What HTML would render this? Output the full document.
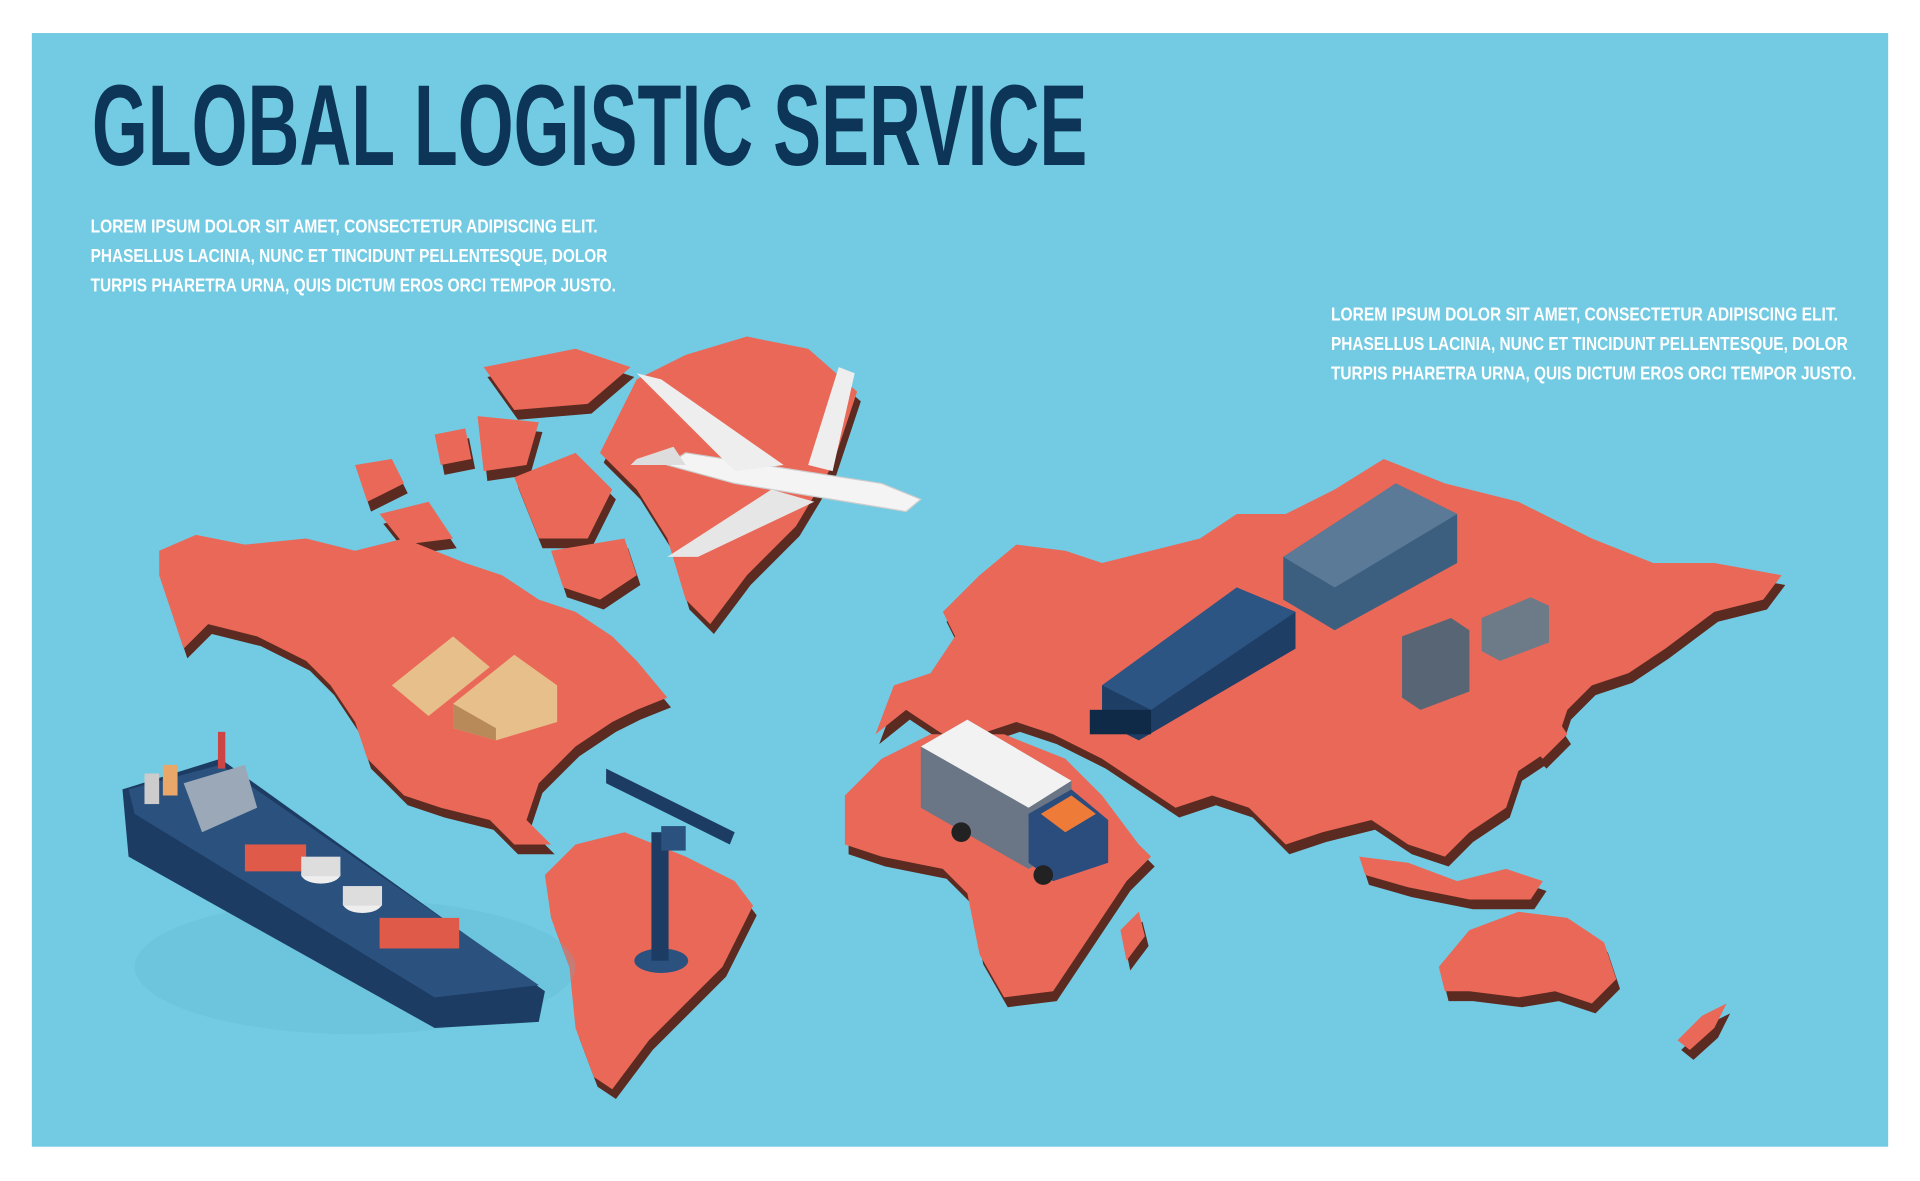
<!DOCTYPE html>
<html><head><meta charset="utf-8"><style>
html,body{margin:0;padding:0;background:#fff;width:1920px;height:1181px;overflow:hidden}
svg{display:block}
text{font-family:"Liberation Sans",sans-serif;font-weight:bold}
</style></head><body>
<svg width="1920" height="1181" viewBox="0 0 1568 965" preserveAspectRatio="none" xmlns="http://www.w3.org/2000/svg">
<rect x="26" y="27" width="1516" height="910" fill="#72cbe3"/>
<text x="75" y="135" font-size="94" fill="#0d3557" textLength="813" lengthAdjust="spacingAndGlyphs">GLOBAL LOGISTIC SERVICE</text>
<g fill="#fff" font-size="15">
<text x="74" y="190" textLength="414" lengthAdjust="spacingAndGlyphs">LOREM IPSUM DOLOR SIT AMET, CONSECTETUR ADIPISCING ELIT.</text>
<text x="74" y="214" textLength="422" lengthAdjust="spacingAndGlyphs">PHASELLUS LACINIA, NUNC ET TINCIDUNT PELLENTESQUE, DOLOR</text>
<text x="74" y="238" textLength="429" lengthAdjust="spacingAndGlyphs">TURPIS PHARETRA URNA, QUIS DICTUM EROS ORCI TEMPOR JUSTO.</text>
</g>
<g fill="#fff" font-size="15">
<text x="1087" y="262" textLength="414" lengthAdjust="spacingAndGlyphs">LOREM IPSUM DOLOR SIT AMET, CONSECTETUR ADIPISCING ELIT.</text>
<text x="1087" y="286" textLength="422" lengthAdjust="spacingAndGlyphs">PHASELLUS LACINIA, NUNC ET TINCIDUNT PELLENTESQUE, DOLOR</text>
<text x="1087" y="310" textLength="429" lengthAdjust="spacingAndGlyphs">TURPIS PHARETRA URNA, QUIS DICTUM EROS ORCI TEMPOR JUSTO.</text>
</g>
<defs>
<g id="lands">
<polygon points="130,450 160,437 200,445 250,440 290,450 330,440 380,460 410,470 440,490 470,500 500,520 520,540 545,570 520,580 500,590 470,610 440,640 430,670 450,690 420,690 400,670 360,660 330,650 300,620 290,590 270,560 250,540 210,520 170,510 150,530 140,500 130,470"/>
<polygon points="290,380 320,375 330,395 300,410"/>
<polygon points="310,420 350,410 370,440 330,445"/>
<polygon points="355,355 380,350 385,375 360,380"/>
<polygon points="395,300 470,285 515,300 480,330 420,335"/>
<polygon points="390,340 440,345 430,380 395,385"/>
<polygon points="420,390 470,370 500,400 480,440 440,440"/>
<polygon points="450,450 510,440 520,470 490,490 460,480"/>
<polygon points="490,370 520,310 560,290 610,275 660,285 700,320 680,380 650,430 610,470 580,510 560,490 545,440 520,400"/>
<polygon points="445,715 470,690 510,680 560,700 600,720 615,740 590,790 560,820 530,850 500,890 485,880 470,840 465,790 450,750"/>
<polygon points="770,500 800,470 830,445 870,450 900,460 940,450 980,440 1010,420 1050,420 1090,400 1130,375 1180,395 1240,410 1300,440 1350,460 1400,460 1455,470 1440,490 1400,500 1360,530 1330,550 1300,560 1280,580 1270,610 1240,630 1230,660 1200,680 1180,700 1150,690 1120,670 1080,680 1050,690 1020,660 990,650 960,660 930,640 900,620 860,600 830,590 800,600 770,600 740,580 715,600 730,560 760,550 780,520"/>
<polygon points="690,650 720,620 760,600 820,600 870,620 900,650 930,690 940,700 920,720 900,750 880,780 860,810 820,815 800,780 790,730 770,710 720,700 690,690"/>
<polygon points="1175,790 1200,760 1240,745 1280,750 1310,770 1320,800 1300,820 1270,810 1240,815 1200,810 1180,810"/>
<polygon points="1110,700 1150,705 1190,720 1230,710 1260,720 1250,735 1200,735 1150,725 1115,715"/>
<polygon points="1240,560 1260,570 1280,600 1260,620 1240,600"/>
<polygon points="1370,850 1390,830 1410,820 1400,840 1380,858"/>
<polygon points="915,760 930,745 935,765 920,785"/>
</g>
</defs>
<g>
<use href="#lands" transform="translate(3,8)" fill="#5b2b22"/>
<use href="#lands" fill="#ea6857"/>
</g>
<g>
<ellipse cx="290" cy="790" rx="180" ry="55" fill="#5fb3cc" opacity="0.25"/>
<polygon points="100,645 180,620 445,810 440,835 355,840 105,700" fill="#1d3c63"/>
<polygon points="105,645 180,625 440,805 355,815 110,665" fill="#2b527f"/>
<polygon points="150,640 200,625 210,660 165,680" fill="#9aa8b8"/>
<rect x="178" y="598" width="6" height="30" fill="#c44"/>
<g fill="#e05a4a"><rect x="200" y="690" width="50" height="22"/><rect x="310" y="750" width="65" height="25"/></g>
<ellipse cx="262" cy="714" rx="16" ry="8" fill="#eee"/><rect x="246" y="700" width="32" height="16" fill="#ddd"/>
<ellipse cx="296" cy="738" rx="16" ry="8" fill="#eee"/><rect x="280" y="724" width="32" height="16" fill="#ddd"/>
<rect x="118" y="632" width="12" height="25" fill="#ccc"/><rect x="133" y="625" width="12" height="25" fill="#e9a86a"/>
</g>
<g>
<ellipse cx="540" cy="785" rx="22" ry="10" fill="#2b527f"/>
<rect x="532" y="680" width="14" height="105" fill="#1d3c63"/>
<polygon points="495,628 600,680 596,690 495,640" fill="#1d3c63"/>
<rect x="540" y="675" width="20" height="20" fill="#2b527f"/>
</g>
<g>
<polygon points="320,560 370,520 400,545 350,585" fill="#e7bf8b"/>
<polygon points="370,575 420,535 455,560 455,590 405,605 370,595" fill="#e7bf8b"/>
<polygon points="370,575 405,595 405,605 370,595" fill="#b88a5a"/>
</g>
<g>
<polygon points="560,370 720,395 752,408 740,418 600,395 545,380" fill="#f4f4f4" stroke="#ccc"/>
<polygon points="600,385 520,305 540,310 640,380" fill="#eee"/>
<polygon points="630,400 545,455 570,455 665,410" fill="#e6e6e6"/>
<polygon points="660,380 685,300 698,305 680,385" fill="#eee"/>
<polygon points="520,375 550,365 560,380 515,380" fill="#ddd"/>
</g>
<g>
<polygon points="1048,455 1140,395 1190,420 1190,460 1090,515 1048,490" fill="#3c5f80"/>
<polygon points="1048,455 1140,395 1190,420 1090,480" fill="#5a7a98"/>
<polygon points="900,560 1010,480 1058,500 1058,530 930,605 900,590" fill="#1f3e66"/>
<polygon points="900,560 1010,480 1058,500 940,580" fill="#2c5584"/>
<rect x="890" y="580" width="50" height="20" fill="#0f2a47"/>
</g>
<g>
<polygon points="752,610 790,588 875,638 875,690 840,710 752,660" fill="#6a7585"/>
<polygon points="752,610 790,588 875,638 840,660" fill="#f2f2f2"/>
<polygon points="840,665 875,645 905,670 905,705 860,720 840,705" fill="#2b4d7e"/>
<polygon points="850,665 875,650 895,665 870,680" fill="#ef7b38"/>
<circle cx="785" cy="680" r="8" fill="#222"/><circle cx="852" cy="715" r="8" fill="#222"/>
</g>
<g>
<polygon points="1145,520 1185,505 1200,515 1200,565 1160,580 1145,570" fill="#576574"/>
<polygon points="1210,505 1250,488 1265,495 1265,525 1225,540 1210,532" fill="#6d7b88"/>
</g>
</svg>
</body></html>
